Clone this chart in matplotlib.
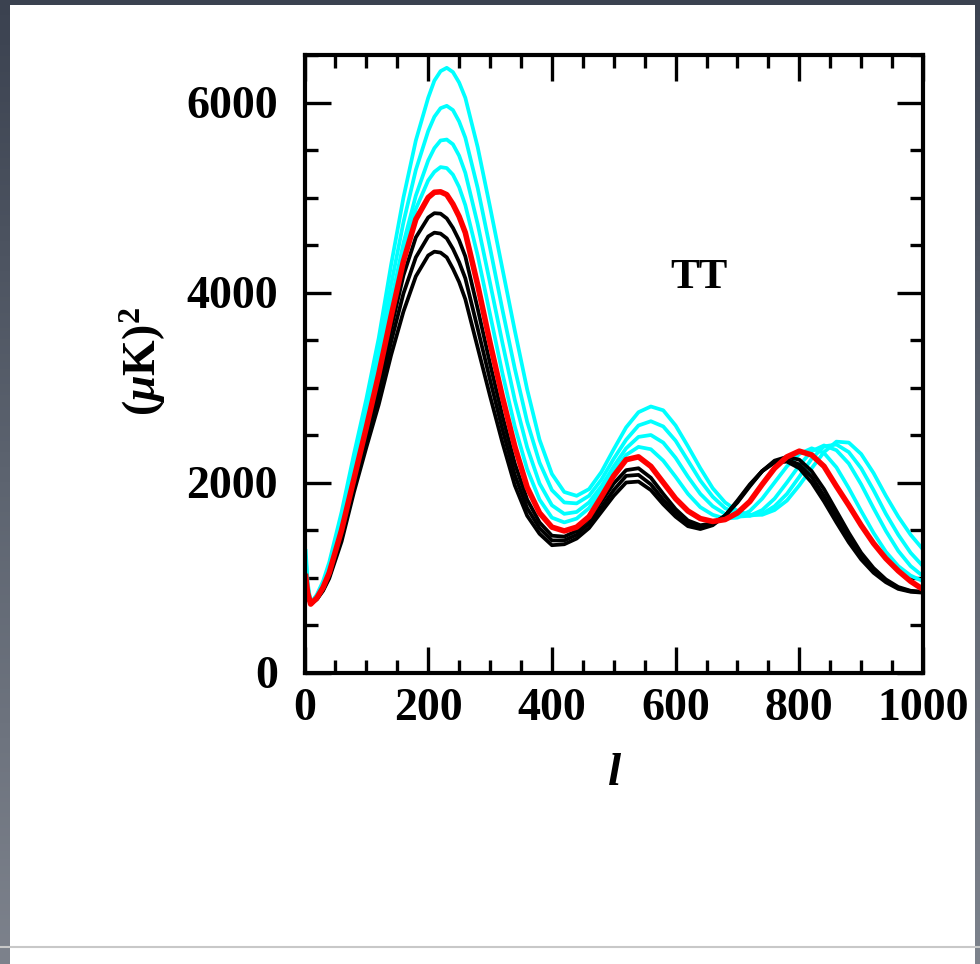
import numpy as np
import matplotlib
matplotlib.use("Agg")
import matplotlib.pyplot as plt
from matplotlib.ticker import MultipleLocator, FixedLocator
from matplotlib.patches import Rectangle
from matplotlib.colors import LinearSegmentedColormap

# ---------------- data ----------------
ell = [2, 5, 10, 20, 30, 40, 60, 80, 100, 120, 140, 160, 180, 200, 210, 220, 230, 240, 250,
       260, 280, 300, 320, 340, 360, 380, 400, 420, 440, 460, 480, 500, 520,
       540, 560, 580, 600, 620, 640, 660, 680, 700, 720, 740, 760, 780, 800,
       820, 840, 860, 880, 900, 920, 940, 960, 980, 1000]

cyan1 = [1280, 950, 730, 820, 960, 1160, 1690, 2300, 2880, 3520, 4290, 5000, 5600, 6050, 6230, 6330, 6365, 6320, 6210,
         6050, 5530, 4900, 4250, 3600, 2980, 2450, 2090, 1900, 1860, 1930, 2110, 2350, 2580,
         2740, 2800, 2760, 2600, 2380, 2150, 1940, 1790, 1700, 1660, 1660, 1710, 1810, 1970,
         2150, 2320, 2430, 2420, 2300, 2100, 1860, 1640, 1450, 1295]
cyan2 = [1200, 910, 730, 810, 940, 1130, 1640, 2230, 2780, 3380, 4080, 4740, 5290, 5700, 5850, 5940, 5965, 5920, 5800,
         5630, 5100, 4470, 3820, 3200, 2640, 2210, 1920, 1790, 1780, 1860, 2030, 2250, 2450,
         2600, 2645, 2590, 2440, 2230, 2020, 1850, 1730, 1670, 1650, 1670, 1750, 1880, 2060,
         2250, 2380, 2400, 2320, 2150, 1920, 1670, 1450, 1260, 1119]
cyan3 = [1130, 880, 725, 800, 920, 1100, 1590, 2170, 2700, 3260, 3900, 4520, 5020, 5390, 5520, 5600, 5610, 5560, 5440,
         5260, 4720, 4100, 3470, 2870, 2370, 1990, 1760, 1670, 1690, 1790, 1960, 2170, 2360,
         2480, 2500, 2420, 2260, 2060, 1880, 1750, 1670, 1640, 1650, 1710, 1830, 2000, 2180,
         2330, 2390, 2340, 2200, 1980, 1730, 1490, 1280, 1120, 1014]
cyan4 = [1060, 860, 722, 795, 910, 1080, 1550, 2130, 2650, 3190, 3820, 4420, 4880, 5180, 5270, 5320, 5310, 5240, 5110,
         4920, 4390, 3770, 3150, 2590, 2140, 1820, 1630, 1580, 1620, 1730, 1910, 2110, 2290,
         2375, 2350, 2230, 2060, 1880, 1740, 1660, 1620, 1630, 1700, 1830, 2000, 2170, 2300,
         2360, 2310, 2160, 1940, 1700, 1470, 1270, 1120, 1020, 961]
red = [1010, 840, 720, 785, 895, 1050, 1500, 2040, 2580, 3140, 3750, 4330, 4770, 5000, 5055, 5060, 5030, 4930, 4800,
       4630, 4080, 3470, 2900, 2380, 1950, 1680, 1530, 1490, 1530, 1640, 1850, 2070, 2240,
       2270, 2170, 2000, 1830, 1700, 1620, 1590, 1610, 1680, 1800, 1980, 2150, 2270, 2330,
       2290, 2170, 1960, 1760, 1550, 1360, 1200, 1070, 960, 875]
black1 = [970, 830, 720, 780, 880, 1030, 1460, 2000, 2510, 3020, 3620, 4180, 4580, 4790, 4835, 4830, 4780, 4680, 4550,
          4380, 3830, 3250, 2700, 2200, 1820, 1580, 1440, 1430, 1490, 1620, 1800, 1990, 2130,
          2150, 2050, 1880, 1720, 1600, 1550, 1570, 1650, 1790, 1960, 2120, 2230, 2270, 2240,
          2120, 1930, 1700, 1470, 1260, 1100, 980, 900, 860, 850]
black2 = [950, 820, 720, 775, 870, 1010, 1420, 1960, 2440, 2920, 3480, 3990, 4370, 4590, 4630, 4620, 4570, 4460, 4320,
          4150, 3620, 3080, 2560, 2080, 1730, 1520, 1390, 1390, 1450, 1570, 1740, 1920, 2070,
          2080, 1980, 1820, 1680, 1570, 1530, 1560, 1650, 1800, 1970, 2120, 2220, 2240, 2190,
          2060, 1860, 1640, 1420, 1230, 1080, 970, 890, 855, 845]
black3 = [930, 810, 720, 770, 860, 990, 1380, 1900, 2370, 2820, 3340, 3800, 4170, 4390, 4430, 4420, 4370, 4250, 4110,
          3930, 3420, 2910, 2420, 1970, 1650, 1460, 1340, 1350, 1410, 1520, 1690, 1860, 2000,
          2010, 1920, 1770, 1640, 1540, 1510, 1550, 1650, 1810, 1980, 2120, 2210, 2220, 2150,
          2000, 1800, 1580, 1370, 1190, 1050, 950, 880, 850, 840]

cyan_series = [cyan1, cyan2, cyan3, cyan4]
black_series = [black1, black2, black3]

x_major = [0, 200, 400, 600, 800, 1000]
y_major = [0, 2000, 4000, 6000]

# ---------------- style ----------------
plt.rcParams['font.family'] = ['Liberation Serif', 'DejaVu Serif']
plt.rcParams['font.weight'] = 'bold'
plt.rcParams['mathtext.fontset'] = 'custom'
plt.rcParams['mathtext.rm'] = 'Liberation Serif:bold'
plt.rcParams['mathtext.it'] = 'Liberation Serif:bold:italic'
plt.rcParams['mathtext.bf'] = 'Liberation Serif:bold'

W, H = 980, 964
fig = plt.figure(figsize=(W / 100, H / 100), dpi=100)

# background: dark slate frame with white panel
bg = fig.add_axes([0, 0, 1, 1])
bg.set_axis_off()
cmap = LinearSegmentedColormap.from_list('bgc', ['#7d828c', '#5d6470', '#3b4250'])
grad = np.linspace(0, 1, 256).reshape(-1, 1)
bg.imshow(grad, extent=[0, 1, 0, 1], aspect='auto', cmap=cmap, origin='lower', zorder=0)
bg.add_patch(Rectangle((10 / W, 0), (975 - 10) / W, 1 - 5 / H, transform=bg.transAxes,
                       facecolor='white', edgecolor='none', zorder=1))
bg.plot([0, 1], [1 - 947 / H, 1 - 947 / H], transform=bg.transAxes, color='#c8c8c8', lw=1.5, zorder=2)
bg.set_xlim(0, 1)
bg.set_ylim(0, 1)

left, right, top, bottom = 304.5, 923, 55, 672.5
ax = fig.add_axes([left / W, 1 - bottom / H, (right - left) / W, (bottom - top) / H])
ax.set_facecolor('white')

for s in cyan_series:
    ax.plot(ell, s, color='#00ffff', lw=2.7, solid_joinstyle='round')
for s in black_series:
    ax.plot(ell, s, color='black', lw=2.7, solid_joinstyle='round')
ax.plot(ell, red, color='#ff0000', lw=4.0, solid_joinstyle='round')

ax.set_xlim(0, 1000)
ax.set_ylim(0, 6500)
ax.xaxis.set_major_locator(FixedLocator(x_major))
ax.xaxis.set_minor_locator(MultipleLocator(50))
ax.yaxis.set_major_locator(FixedLocator(y_major))
ax.yaxis.set_minor_locator(MultipleLocator(500))
ax.set_xticklabels([str(v) for v in x_major])
ax.set_yticklabels([str(v) for v in y_major])

ax.tick_params(which='both', direction='in', top=True, right=True, width=2.4, color='black')
ax.tick_params(which='major', length=19)
ax.tick_params(which='minor', length=9.5)
ax.tick_params(axis='x', which='major', labelsize=33, pad=11)
ax.tick_params(axis='y', which='major', labelsize=33, pad=19)
for lab in ax.get_xticklabels() + ax.get_yticklabels():
    lab.set_fontweight('bold')
for sp in ax.spines.values():
    sp.set_linewidth(3.0)

ax.text(638, 4150, 'TT', ha='center', va='center', fontsize=31, fontweight='bold')

fig.text(143 / W, 1 - 362 / H, r'$(\mu\mathrm{K})^2$', rotation=90, ha='center', va='center',
         fontsize=33)
fig.text(615 / W, 1 - 774 / H, 'l', ha='center', va='center', fontsize=34,
         fontweight='bold', fontstyle='italic')

fig.savefig('out.png', dpi=100)
